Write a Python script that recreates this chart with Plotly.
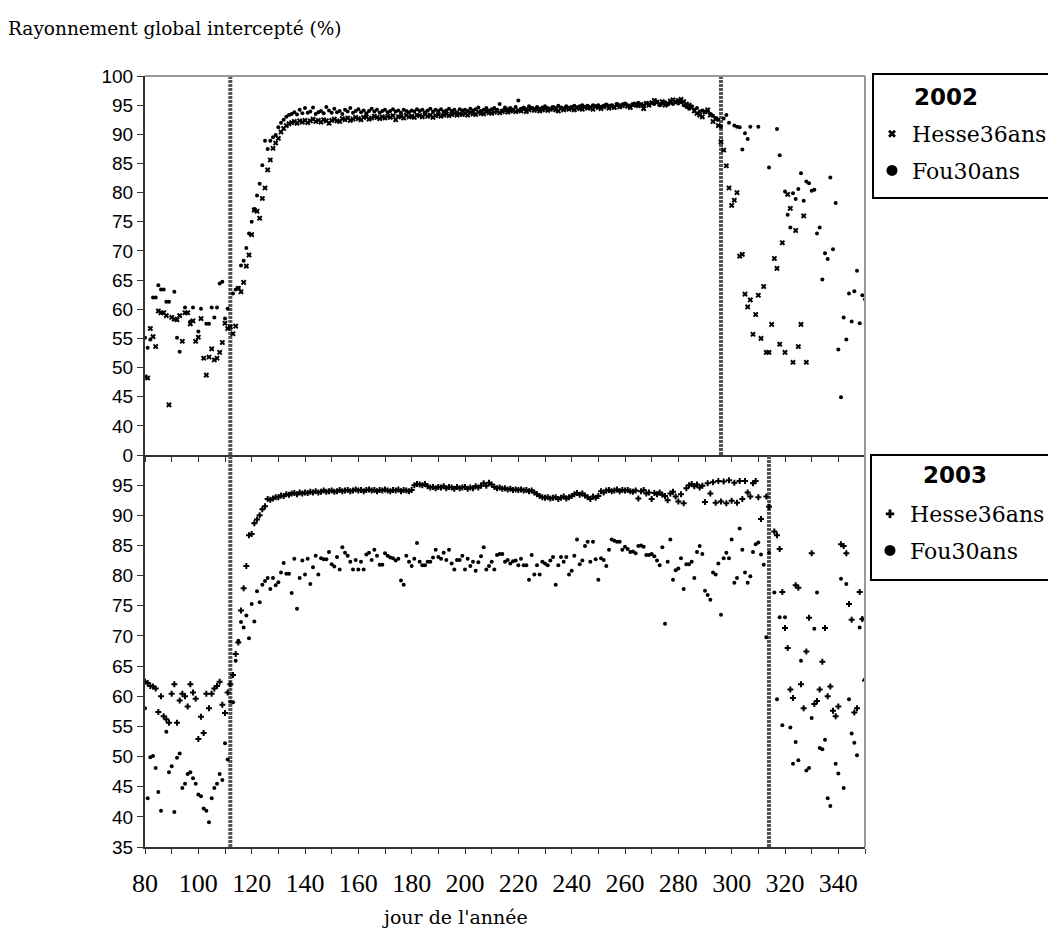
import plotly.graph_objects as go

DAYS = list(range(80, 351))

HESSE_2002 = [
    48.4, 48.2, 56.7, 55.3, 53.6, 59.7, 59.4, 59.4, 58.9, 43.6,
    58.6, 58.3, 58.2, 58.9, 54.5, 59.4, 59.4, 57.5, 58.0, 54.5,
    55.2, 58.4, 51.6, 48.7, 51.8, 53.2, 51.3, 51.6, 52.6, 54.3,
    57.6, 56.7, 57.0, 55.8, 57.1, 63.6, 63.0, 64.6, 67.4, 69.3,
    72.8, 77.0, 76.8, 75.6, 79.0, 80.8, 83.9, 85.6, 87.6, 88.5,
    89.3, 90.4, 91.0, 91.5, 91.8, 92.0, 92.2, 91.9, 92.3, 92.1,
    92.4, 92.0, 92.3, 92.6, 92.2, 92.4, 92.1, 92.5, 92.3, 91.9,
    92.4, 92.6, 92.3, 92.2, 92.7, 92.5, 92.8, 92.4, 92.6, 92.9,
    92.7, 92.5, 92.9, 93.0, 92.6, 92.8, 93.1, 92.9, 92.7, 93.0,
    92.8, 93.1, 92.9, 93.2, 92.5, 93.0, 93.1, 92.8, 93.3, 93.0,
    93.1, 92.9, 93.3, 93.2, 93.0, 93.4, 93.1, 93.3, 92.9, 93.2,
    93.4, 93.1, 93.3, 93.5, 93.2, 93.4, 93.6, 93.3, 93.5, 93.4,
    93.6, 93.3, 93.7, 93.5, 93.4, 93.8, 93.6, 93.5, 93.9, 93.7,
    93.6, 93.8, 94.0, 93.7, 93.9, 94.1, 93.8, 94.0, 94.2, 93.9,
    94.1, 94.0, 94.3, 93.9, 94.2, 94.4, 94.1, 94.3, 94.0, 94.2,
    94.4, 94.1, 94.3, 94.5, 94.2, 94.0, 94.4, 94.2, 94.5, 94.3,
    94.5, 94.2, 94.6, 94.4, 94.3, 94.7, 94.5, 94.6, 94.3, 94.8,
    94.6, 94.4, 94.7, 94.9, 94.5, 94.8, 94.6, 95.0, 94.7, 94.9,
    95.1, 94.8, 94.6, 95.0, 95.2, 94.9, 95.1, 94.4, 95.3, 95.0,
    95.4, 95.8, 95.5, 95.2, 95.6, 95.0, 95.3, 95.7, 95.9, 95.5,
    95.8, 96.0, 95.6, 95.2, 95.0, 94.6, 94.0, 93.6, 93.3, 93.0,
    93.9, 94.2, 93.3, 92.2, 92.6, 91.5, 88.7, 87.3, 84.6, 80.8,
    77.8, 78.7, 80.0, 69.1, 69.4, 62.6, 60.4, 61.6, 55.7, 59.1,
    62.4, 55.0, 63.9, 52.6, 52.6, 57.4, 68.7, 67.0, 54.0, 71.4,
    52.6, 79.7, 77.3, 50.9, 73.5, 53.6, 57.4, 76.0, 50.9, None,
    None, None, None, None, None, None, None, None, None, None,
    None, None, None, None, None, None, None, None, None, None,
    None,
]

FOU_2002 = [
    55.1, 53.4, 54.8, 62.0, 62.0, 64.1, 63.4, 63.4, 61.3, 61.3,
    None, 63.0, 55.1, 52.7, None, 60.3, None, 57.9, 60.3, None,
    56.2, 60.1, None, 57.5, 57.5, 60.3, 58.6, 60.3, 64.4, 64.7,
    58.4, 60.1, None, 62.7, 63.4, 63.6, 67.5, 68.3, 70.5, 73.0,
    75.0, 77.2, 79.5, 81.5, 84.7, 88.9, 87.5, 88.9, 89.5, 89.9,
    91.2, 92.0, 92.5, 93.0, 93.3, 93.5, 93.8, 93.4, 94.2, 93.6,
    94.5, 93.7, 93.9, 94.6, 93.5, 93.8, 94.0, 93.6, 94.7, 94.1,
    93.7, 94.4, 93.8, 94.0, 93.5, 94.2, 93.9, 94.5, 93.7, 94.0,
    94.3, 93.8, 94.1, 93.6, 94.0, 94.4, 93.9, 94.2, 93.7, 94.0,
    94.2, 93.8, 94.0, 94.3, 93.9, 94.1, 93.7, 94.2, 94.0, 93.8,
    94.1, 93.9, 94.3, 94.0, 94.2, 93.8, 94.1, 94.4, 93.9, 94.2,
    94.0, 94.3, 93.9, 94.1, 94.4, 94.0, 94.2, 93.8, 94.3, 94.1,
    94.2, 94.0, 94.4, 94.1, 94.3, 94.6, 94.0, 94.2, 94.5, 94.1,
    94.3, 94.5, 94.2, 95.2, 94.1, 94.6, 94.3, 94.5, 94.2, 94.7,
    95.8, 94.4, 94.6, 94.3, 94.8, 94.5, 94.3, 94.7, 94.4, 94.6,
    94.8, 94.5, 94.3, 94.7, 94.5, 94.9, 94.6, 94.4, 94.8, 94.5,
    94.7, 94.9, 94.6, 94.8, 95.0, 94.7, 94.9, 94.6, 95.0, 94.8,
    95.0, 94.7, 94.9, 95.1, 94.8, 95.0, 94.7, 95.2, 94.9, 95.1,
    95.3, 95.0, 94.8, 95.2, 95.0, 95.4, 95.1, 94.9, 95.3, 95.1,
    95.4, 95.2, 95.6, 95.0, 95.3, 95.5, 95.1, 95.4, 95.2, 95.6,
    95.3, 95.5, 95.0, 94.7, 94.4, 94.8, 94.2, 94.5, 93.9, 94.1,
    93.8, 94.0, 93.5, 93.2, 92.8, 92.5, 91.3, 92.7, 93.3, 92.0,
    None, 91.5, 91.3, 91.2, 87.4, 90.2, 89.2, 91.3, None, None,
    91.3, None, None, None, 84.3, None, None, 90.9, 86.4, None,
    80.2, 76.2, 74.0, 79.9, 78.9, 80.6, 83.3, 78.6, 81.9, 81.6,
    80.3, 80.5, 73.0, 74.0, 65.1, 69.6, 68.6, 82.6, 70.3, 78.2,
    53.1, 44.9, 58.6, 54.8, 62.7, 57.9, 63.1, 66.6, 57.6, 62.4,
    61.7,
]

HESSE_2003 = [
    62.4, 62.2, 61.7, 61.6, 61.3, 57.4, 60.0, 56.7, 56.2, 55.6,
    60.4, 62.0, 55.6, 59.3, 60.4, 60.0, 58.3, 62.0, 60.6, 59.6,
    52.9, 56.6, 53.9, 60.4, 58.0, 60.4, 61.3, 61.7, 62.4, 58.6,
    57.2, 60.6, 62.0, 63.5, 67.0, 68.9, 74.2, 77.9, 81.6, 86.7,
    86.9, 88.7, 89.3, 90.0, 91.0, 91.5, 92.7, 92.6, 92.8, 93.0,
    93.0, 93.3, 93.2, 93.5, 93.4, 93.6, 93.7, 93.5, 93.8, 93.6,
    93.8, 93.7, 93.9, 93.8, 94.0, 93.8, 93.9, 94.1, 93.9, 94.0,
    94.1, 93.9, 94.0, 94.2, 94.0, 94.1, 94.2, 94.0, 94.1, 94.3,
    94.1, 94.2, 94.0, 94.2, 94.3, 94.1, 94.2, 94.0, 94.2, 94.1,
    94.3, 94.1, 94.0, 94.2, 94.1, 94.3, 94.0, 94.2, 94.1, 94.0,
    94.2, 95.0, 95.2, 95.1, 95.0, 95.2, 94.8, 94.6, 94.7, 94.5,
    94.7, 94.6, 94.8, 94.5, 94.7, 94.6, 94.4, 94.7, 94.5, 94.6,
    94.7, 94.4, 94.6, 94.5, 94.8, 94.6, 94.9, 95.3, 94.9, 95.4,
    95.1, 94.7, 94.5, 94.6, 94.4, 94.5, 94.3, 94.4, 94.2, 94.3,
    94.2, 94.3, 94.1, 94.2, 94.0, 94.1, 93.8, 93.5, 93.2, 93.0,
    92.9, 93.0, 92.8, 92.9, 93.0, 92.7, 92.9, 93.1, 92.8, 93.0,
    93.2, 93.5, 93.7, 93.4, 93.6, 93.3, 93.0, 92.7, 93.1, 92.9,
    93.2, 94.0, 93.8, 94.1, 94.2, 94.0, 94.1, 94.3, 94.0, 94.2,
    94.1, 94.2, 94.0, 93.9, 94.1, 92.8, 94.0, 94.2, 93.6, 93.8,
    92.7, 93.7, 93.5, 93.8, 93.4, 93.2, 92.5, 93.6, 93.9, 93.1,
    92.3, 93.5, 92.0, 94.5, 95.0, 95.2, 94.8, 95.1, 94.6, 94.9,
    92.2, 95.3, 93.6, 95.5, 92.1, 95.7, 92.3, 95.6, 92.0, 95.8,
    92.4, 95.4, 92.1, 95.7, 92.7, 95.7, 93.8, 93.1, 95.3, 95.7,
    93.0, 89.4, None, 93.1, 91.4, None, 87.3, 86.7, 84.4, 77.3,
    71.3, 68.0, 61.1, 59.7, 78.4, 78.0, 62.0, 58.0, 67.4, 73.0,
    83.7, 58.7, 59.2, 61.1, 65.7, 71.3, 60.0, 61.6, 57.6, 56.7,
    58.3, 85.2, 84.9, 83.7, 75.3, 72.7, 57.3, 58.0, 77.3, 72.8,
    62.6,
]

FOU_2003 = [
    58.0, 43.1, 49.9, 50.1, 48.1, 44.1, 41.0, None, 54.1, 47.4,
    48.4, 40.8, 49.8, 50.5, 44.8, 45.5, 47.1, 47.4, 46.4, 45.5,
    43.7, 43.4, 41.4, 41.0, 39.1, 43.1, 44.8, 45.5, 47.1, 46.1,
    52.2, 49.5, 59.1, 59.0, 65.9, 69.2, 72.3, 71.4, 73.4, 69.6,
    75.3, 72.4, 77.4, 75.6, 78.5, 79.1, 79.6, 77.8, 79.6, 78.4,
    78.9, 80.5, 82.1, 80.3, 80.3, 77.1, 82.8, 74.5, 79.6, 82.5,
    80.2, 82.8, 78.6, 81.4, 83.3, 80.2, 82.9, 82.7, 82.7, 83.9,
    81.9, 81.5, 83.1, 81.0, 84.7, 83.8, 83.3, 82.3, 81.0, 82.6,
    81.0, 82.3, 81.0, 83.5, 83.8, 82.6, 84.3, 83.3, 81.8, 81.8,
    83.7, 83.3, 83.0, 82.9, 82.5, 82.8, 79.2, 78.5, 83.3, 82.3,
    81.6, 82.8, 85.4, 82.3, 81.7, 81.7, 82.3, 82.3, 83.0, 84.3,
    83.1, 82.8, 83.8, 82.6, 84.3, 82.0, 81.0, 82.6, 82.6, 83.3,
    81.0, 82.8, 81.6, 82.3, 80.8, 82.2, 83.2, 84.7, 81.0, 81.6,
    82.3, 81.0, 83.4, 83.6, 83.6, 82.3, 82.6, 82.0, 82.4, 82.5,
    81.7, 82.8, 81.7, 81.7, 79.3, 83.4, 80.2, 81.7, 80.2, 82.3,
    82.0, 81.7, 82.5, 83.1, 78.5, 81.7, 83.1, 82.3, 83.1, 80.2,
    80.8, 83.3, 86.0, 81.9, 82.5, 84.9, 85.6, 82.3, 85.6, 82.7,
    79.3, 82.9, 82.6, 81.6, 84.3, 86.0, 85.8, 85.6, 85.6, 84.3,
    84.8, 84.4, 83.9, 84.0, 83.7, 84.9, 85.0, 84.8, 83.4, 83.4,
    83.6, 83.2, 82.5, 81.7, 84.7, 72.0, 82.3, 86.0, 79.3, 80.9,
    81.2, 82.9, 77.8, 81.9, 81.9, 82.3, 79.6, 83.9, 84.9, 83.6,
    77.5, 76.8, 76.0, 80.5, 80.2, 82.0, 73.5, 82.9, 83.8, 82.9,
    86.0, 78.8, 79.6, 87.8, 84.3, 80.5, 78.8, 79.9, 83.9, 85.2,
    85.5, 83.5, 81.8, 69.8, 83.8, None, 77.2, 59.5, 73.1, 55.2,
    73.1, None, 54.8, 48.8, 52.4, 49.4, 65.9, None, 47.7, 48.1,
    56.4, 71.2, 77.2, 51.4, 51.2, 52.8, 43.1, 41.8, None, 48.8,
    47.2, 79.5, 44.8, 78.6, 59.5, 53.8, 52.3, 50.2, 71.4, 72.8,
    62.8,
]

# vertical period markers (day of year)
PERIOD_2002 = [112, 296]
PERIOD_2003 = [112, 314]

Y_TICKS = [35, 40, 45, 50, 55, 60, 65, 70, 75, 80, 85, 90, 95, 100]
Y_TICKTEXT_TOP = ["0", "40", "45", "50", "55", "60", "65", "70", "75", "80", "85", "90", "95", "100"]
Y_TICKTEXT_BOTTOM = ["35", "40", "45", "50", "55", "60", "65", "70", "75", "80", "85", "90", "95", ""]
X_TICKS = list(range(80, 351, 10))
X_TICKTEXT = [str(v) if v % 20 == 0 and v < 350 else "" for v in X_TICKS]

W, H = 1056, 950
OFF = 8                      # page body margin
X0, X1 = 145 - OFF, 865 - OFF
Y_TOP, Y_MID, Y_BOT = 76 - OFF, 455 - OFF, 847 - OFF


def px_x(p):
    return (p - OFF - X0) / (X1 - X0)


def px_y(p):
    return (Y_BOT - (p - OFF)) / (Y_BOT - Y_TOP)


fig = go.Figure()
ser_font = "DejaVu Serif"
line_style = dict(color="#555555", width=4, dash="3px,1px")

for d in PERIOD_2002:
    fig.add_trace(go.Scatter(x=[d, d], y=[35, 100], mode="lines", xaxis="x", yaxis="y",
                             line=line_style, showlegend=False, hoverinfo="skip"))
for d in PERIOD_2003:
    fig.add_trace(go.Scatter(x=[d, d], y=[35, 100], mode="lines", xaxis="x2", yaxis="y2",
                             line=line_style, showlegend=False, hoverinfo="skip"))

fig.add_trace(go.Scatter(x=DAYS, y=FOU_2002, mode="markers", xaxis="x", yaxis="y",
                         marker=dict(symbol="circle", size=4, color="black"),
                         name="Fou30ans", showlegend=False))
fig.add_trace(go.Scatter(x=DAYS, y=HESSE_2002, mode="markers", xaxis="x", yaxis="y",
                         marker=dict(symbol="x", size=5, color="black"),
                         name="Hesse36ans", showlegend=False))
fig.add_trace(go.Scatter(x=DAYS, y=FOU_2003, mode="markers", xaxis="x2", yaxis="y2",
                         marker=dict(symbol="circle", size=4, color="black"),
                         name="Fou30ans", showlegend=False))
fig.add_trace(go.Scatter(x=DAYS, y=HESSE_2003, mode="markers", xaxis="x2", yaxis="y2",
                         marker=dict(symbol="cross", size=5, color="black"),
                         name="Hesse36ans", showlegend=False))

# legend entries (bigger symbols than the data marks)
fig.add_trace(go.Scatter(x=[None], y=[None], mode="markers", xaxis="x", yaxis="y",
                         marker=dict(symbol="x", size=7, color="black"),
                         name="Hesse36ans", legend="legend", legendgroup="a"))
fig.add_trace(go.Scatter(x=[None], y=[None], mode="markers", xaxis="x", yaxis="y",
                         marker=dict(symbol="circle", size=11, color="black"),
                         name="Fou30ans", legend="legend", legendgroup="b"))
fig.add_trace(go.Scatter(x=[None], y=[None], mode="markers", xaxis="x2", yaxis="y2",
                         marker=dict(symbol="cross", size=7, color="black"),
                         name="Hesse36ans", legend="legend2", legendgroup="c"))
fig.add_trace(go.Scatter(x=[None], y=[None], mode="markers", xaxis="x2", yaxis="y2",
                         marker=dict(symbol="circle", size=11, color="black"),
                         name="Fou30ans", legend="legend2", legendgroup="d"))

split = (Y_BOT - Y_MID) / (Y_BOT - Y_TOP)

axis_common = dict(showgrid=False, zeroline=False, showline=True, linecolor="#333333",
                   linewidth=2, ticks="outside", tickcolor="#333333", tickwidth=1,
                   automargin=False)

leg_common = dict(bgcolor="rgba(0,0,0,0)", borderwidth=0,
                  font=dict(family=ser_font, size=22, color="black"),
                  xanchor="left", yanchor="top", traceorder="grouped",
                  tracegroupgap=5, itemsizing="trace")

yfont = dict(family="Liberation Sans", size=19, color="black")

fig.update_layout(
    width=W, height=H,
    margin=dict(l=X0, r=W - X1, t=Y_TOP, b=H - Y_BOT, autoexpand=False),
    paper_bgcolor="white", plot_bgcolor="white",
    xaxis=dict(domain=[0, 1], range=[80, 350], anchor="y", tickvals=X_TICKS,
               showticklabels=False, ticklen=5, **axis_common),
    yaxis=dict(domain=[split, 1], range=[35, 100], anchor="x", tickvals=Y_TICKS,
               ticktext=Y_TICKTEXT_TOP, ticklen=6, tickfont=yfont, **axis_common),
    xaxis2=dict(domain=[0, 1], range=[80, 350], anchor="y2", tickvals=X_TICKS,
                ticktext=X_TICKTEXT, ticklen=5, ticklabelstandoff=7,
                tickfont=dict(family="Liberation Serif", size=26, color="black"), **axis_common),
    yaxis2=dict(domain=[0, split], range=[35, 100], anchor="x2", tickvals=Y_TICKS,
                ticktext=Y_TICKTEXT_BOTTOM, ticklen=6, tickfont=yfont, **axis_common),
    legend=dict(x=px_x(872), y=px_y(113), **leg_common),
    legend2=dict(x=px_x(870), y=px_y(493), **leg_common),
    shapes=[
        dict(type="line", xref="x domain", yref="y domain", x0=0, x1=1, y0=1, y1=1,
             line=dict(color="#999999", width=2)),
        dict(type="line", xref="x domain", yref="y domain", x0=1, x1=1, y0=0, y1=1,
             line=dict(color="#999999", width=2)),
        dict(type="line", xref="x2 domain", yref="y2 domain", x0=1, x1=1, y0=0, y1=1,
             line=dict(color="#999999", width=2)),
        dict(type="rect", xref="paper", yref="paper",
             x0=px_x(873), x1=px_x(1053), y0=px_y(198), y1=px_y(74),
             line=dict(color="black", width=2), fillcolor="rgba(0,0,0,0)"),
        dict(type="rect", xref="paper", yref="paper",
             x0=px_x(871), x1=px_x(1053), y0=px_y(580), y1=px_y(455),
             line=dict(color="black", width=2), fillcolor="rgba(0,0,0,0)"),
    ],
    annotations=[
        dict(text="Rayonnement global intercepté (%)", xref="paper", yref="paper",
             x=px_x(6), y=px_y(28), xanchor="left", yanchor="middle", showarrow=False,
             font=dict(family=ser_font, size=18.5, color="black")),
        dict(text="jour de l'année", xref="paper", yref="paper",
             x=px_x(455), y=px_y(917), xanchor="center", yanchor="middle", showarrow=False,
             font=dict(family=ser_font, size=19, color="black")),
        dict(text="<b>2002</b>", xref="paper", yref="paper",
             x=px_x(946), y=px_y(97), xanchor="center", yanchor="middle", showarrow=False,
             font=dict(family="DejaVu Sans", size=23, color="black")),
        dict(text="<b>2003</b>", xref="paper", yref="paper",
             x=px_x(955), y=px_y(475), xanchor="center", yanchor="middle", showarrow=False,
             font=dict(family="DejaVu Sans", size=23, color="black")),
    ],
)

fig.write_html("out.html")
